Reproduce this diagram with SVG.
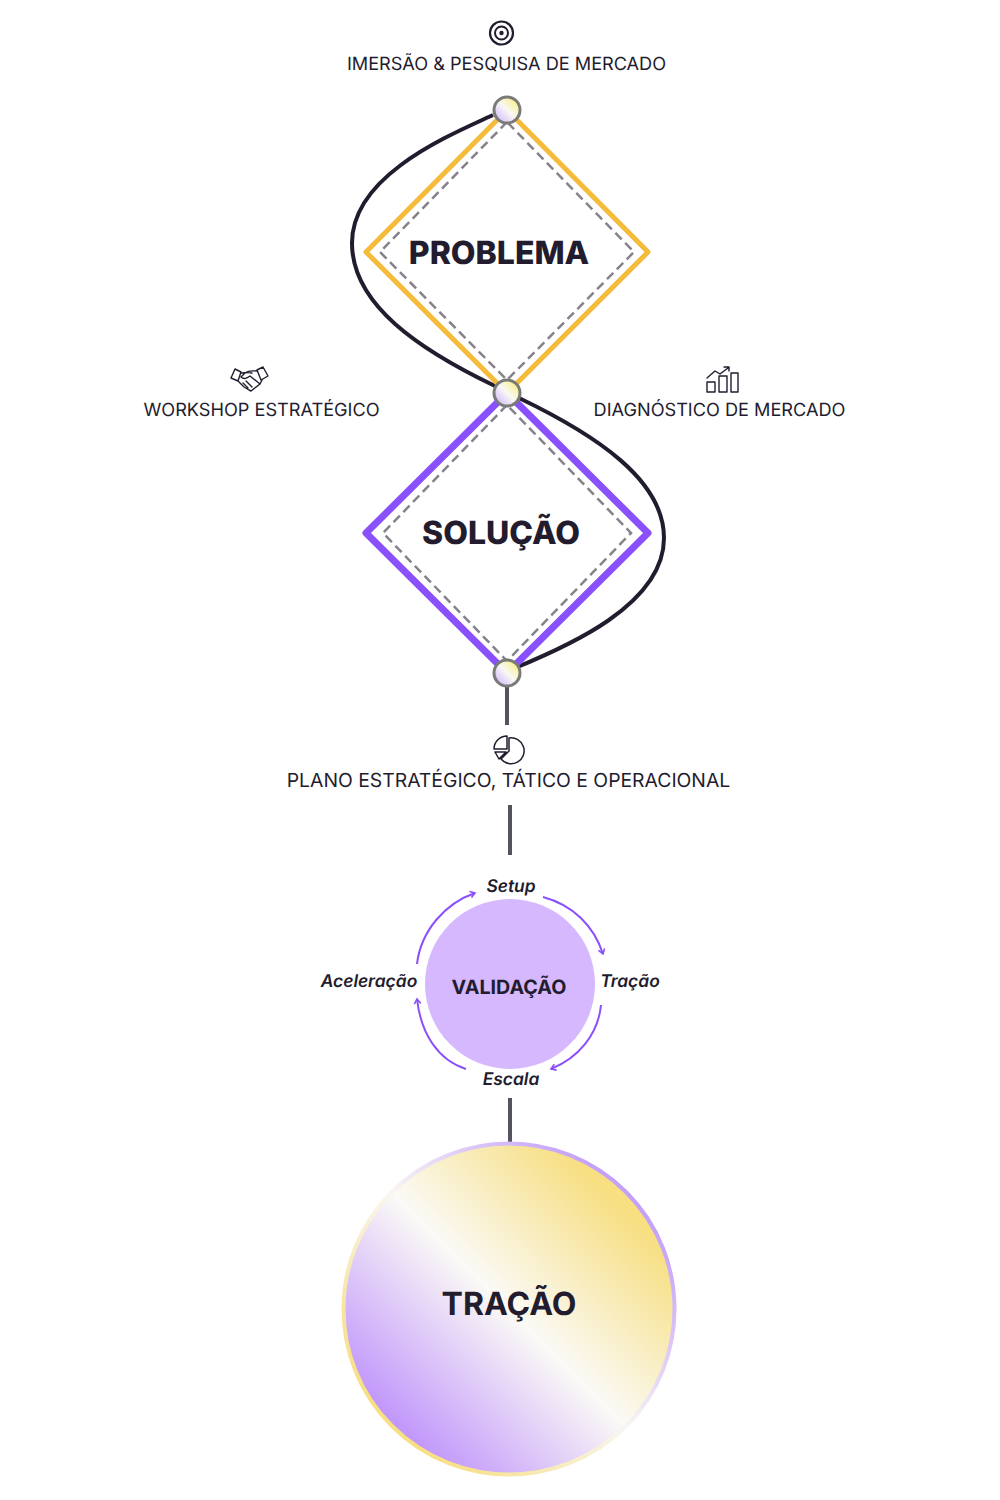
<svg xmlns="http://www.w3.org/2000/svg" width="1000" height="1500" viewBox="0 0 1000 1500">
<style>
text{font-family:Inter,"Liberation Sans",sans-serif;fill:#221c2e;text-anchor:middle;text-rendering:geometricPrecision}
.lab{font-size:18.15px}
.big{font-size:32px;font-weight:800}
.cy{font-size:17.4px;font-weight:600;font-style:italic}
.dash{fill:none;stroke:#85828c;stroke-width:2.5;stroke-dasharray:9 5}
.curve{fill:none;stroke:#221c2e;stroke-width:4}
.stem{stroke:#56535f;stroke-width:4;fill:none}
.arc{fill:none;stroke:#8a50fb;stroke-width:2;marker-end:url(#ah)}
.ic{fill:none;stroke:#221c2e;stroke-width:1.4;stroke-linejoin:round;stroke-linecap:round}
.dot{fill:url(#dot);stroke:#7a7a76;stroke-width:3}
</style>
<defs>
<linearGradient id="dot" x1="0.1" y1="0.9" x2="0.9" y2="0.1"><stop offset="0.05" stop-color="#d5c0fb"/><stop offset="0.5" stop-color="#f9f8f4"/><stop offset="0.9" stop-color="#f9f09a"/></linearGradient>
<linearGradient id="tr" x1="0.14" y1="0.86" x2="0.86" y2="0.14"><stop offset="0" stop-color="#bf93fb"/><stop offset="0.5" stop-color="#fbfaf6"/><stop offset="0.95" stop-color="#f7df82"/></linearGradient>
<linearGradient id="trs" x1="0.15" y1="0.85" x2="0.85" y2="0.15"><stop offset="0" stop-color="#f7df82"/><stop offset="0.5" stop-color="#f8f6f2"/><stop offset="1" stop-color="#c4a0fb"/></linearGradient>
<marker id="ah" viewBox="0 0 10 10" refX="8" refY="5" markerWidth="8" markerHeight="8" orient="auto" markerUnits="userSpaceOnUse"><path d="M2 1L8 5L2 9" fill="none" stroke="#8a50fb" stroke-width="2"/></marker>
</defs>
<g id="connectors">
<path class="curve" d="M493 115C450 135 352 175 352 243C352 305 420 350 495 386"/>
<path class="curve" d="M519 398C596 435 664 480 664 538C664 605 566 647 515 668"/>
<path class="stem" d="M507 686V725M510 805V855M510 1098V1143"/>
<path class="arc" d="M417 964C421 930 446 903 475 893"/>
<path class="arc" d="M543 897C573 905 594 926 603 954"/>
<path class="arc" d="M601 1005C598 1035 578 1058 551 1069"/>
<path class="arc" d="M466 1069C438 1060 421 1034 417 999"/>
</g>
<g id="problema">
<path d="M507 110L366 252L507 393L648 252Z" fill="none" stroke="#f5bc3c" stroke-width="5" stroke-linejoin="round"/>
<path class="dash" d="M507 122L380 252L507 380L634 252Z"/>
<text class="big" x="499" y="264">PROBLEMA</text>
</g>
<g id="solucao">
<path d="M507 393L366 533L507 673L648 533Z" fill="none" stroke="#8a50fb" stroke-width="7" stroke-linejoin="round"/>
<path class="dash" d="M507 405L383 533L507 661L631 533Z"/>
<text class="big" x="501" y="544">SOLUÇÃO</text>
</g>
<g id="node-top"><circle class="dot" cx="507" cy="110" r="13"/></g>
<g id="node-mid"><circle class="dot" cx="507" cy="393" r="13"/></g>
<g id="node-bottom"><circle class="dot" cx="507" cy="673" r="13"/></g>
<g id="imersao">
<circle class="ic" cx="501.5" cy="33" r="11.5" style="stroke-width:2.2"/><circle class="ic" cx="501.5" cy="33" r="6.5" style="stroke-width:2"/><circle cx="501.5" cy="33" r="2.2" fill="#221c2e"/>
<text class="lab" x="506.5" y="70">IMERSÃO &amp; PESQUISA DE MERCADO</text>
</g>
<g id="workshop">
<path class="ic" d="M231 378L235 369L241 372L238 381ZM268 376L263 367L257 370L261 380ZM241 373C245 373 248 372 252 373M257 371C252 371 249 370 245 373L241 377C244 380 247 378 250 376L260 384M238 381L244 387L249 390L251 391L260 384L262 380M243 383L248 388M246 381L252 387"/>
<text class="lab" x="261.5" y="416">WORKSHOP ESTRATÉGICO</text>
</g>
<g id="diagnostico">
<path class="ic" d="M707 382h8v10h-8zM719 376h8v16h-8zM731 373h7v19h-7zM707 378L715 371L720 374L728 368M724 367h5v4"/>
<text class="lab" x="719.5" y="416">DIAGNÓSTICO DE MERCADO</text>
</g>
<g id="plano">
<path class="ic" d="M509 738A13 13 0 1 1 501 759L509 751ZM507 736V749H494A13 13 0 0 1 507 736ZM495 752H506L499 759ZM495 752L499 759" style="stroke-width:1.5"/>
<text class="lab" x="508.5" y="787" style="font-size:19.35px">PLANO ESTRATÉGICO, TÁTICO E OPERACIONAL</text>
</g>
<g id="validacao">
<circle cx="510" cy="984" r="85" fill="#d5b8fd"/>
<text x="509" y="994" font-size="19.7" font-weight="700">VALIDAÇÃO</text>
</g>
<g id="setup"><text class="cy" x="511" y="892">Setup</text></g>
<g id="tracao-lab"><text class="cy" x="630" y="987">Tração</text></g>
<g id="escala"><text class="cy" x="511" y="1085">Escala</text></g>
<g id="aceleracao"><text class="cy" x="369" y="987">Aceleração</text></g>
<g id="tracao">
<circle cx="509" cy="1309" r="165.5" fill="url(#tr)" stroke="url(#trs)" stroke-width="4"/>
<text x="509" y="1315" font-size="32" font-weight="700">TRAÇÃO</text>
</g>
</svg>
